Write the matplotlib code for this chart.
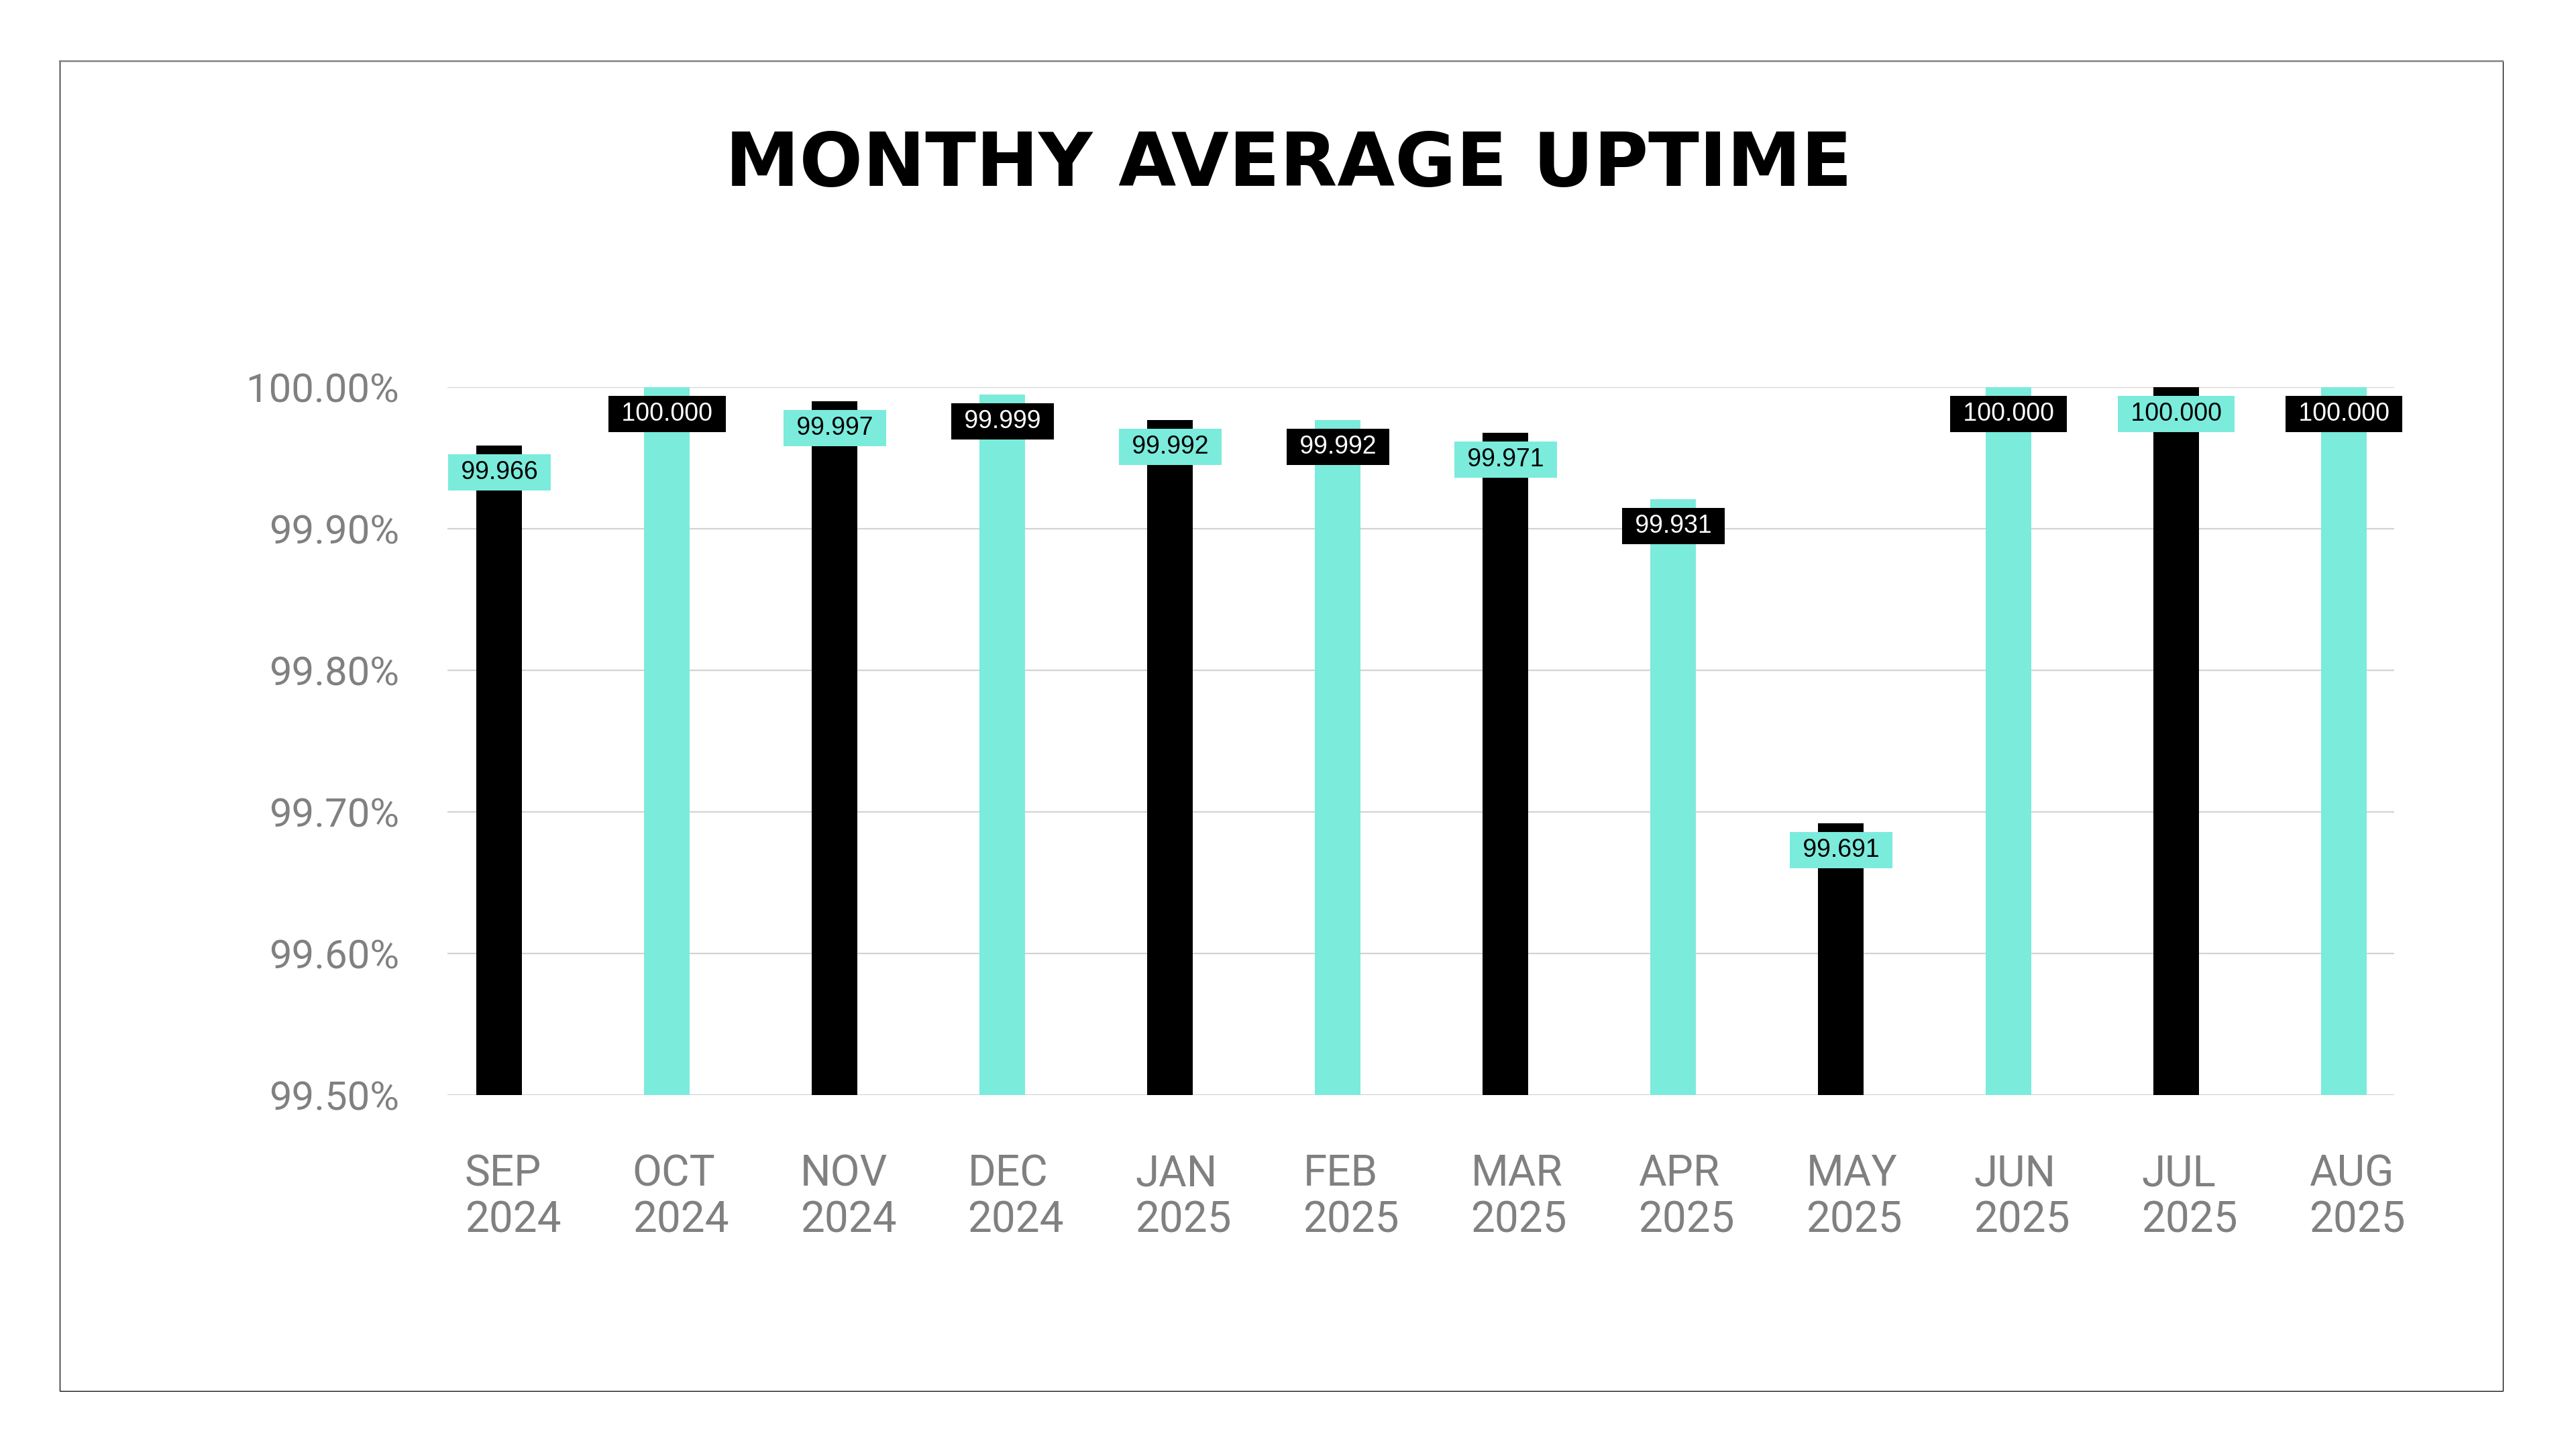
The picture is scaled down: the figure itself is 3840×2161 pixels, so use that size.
import matplotlib
matplotlib.use("Agg")
import matplotlib.pyplot as plt
from matplotlib.patches import Rectangle
from matplotlib.lines import Line2D
from matplotlib.transforms import ScaledTranslation

# Data
months = ["SEP\n2024", "OCT\n2024", "NOV\n2024", "DEC\n2024", "JAN\n2025", "FEB\n2025",
          "MAR\n2025", "APR\n2025", "MAY\n2025", "JUN\n2025", "JUL\n2025", "AUG\n2025"]
uptime = [99.959, 100.000, 99.990, 99.995, 99.977, 99.977,
          99.968, 99.921, 99.692, 100.000, 100.000, 100.000]
uptime_labels = ["99.966", "100.000", "99.997", "99.999", "99.992", "99.992",
                 "99.971", "99.931", "99.691", "100.000", "100.000", "100.000"]
y_ticks = [99.50, 99.60, 99.70, 99.80, 99.90, 100.00]

teal = "#7BEBDC"
black = "#000000"
grey = "#808080"

fig = plt.figure(figsize=(38.41, 21.61), dpi=100)
fig.patch.set_facecolor("white")

# outer frame
fig.add_artist(Rectangle((89 / 3841, 1 - 2073 / 2161), (3731 - 89) / 3841, (2073 - 91) / 2161,
                         transform=fig.transFigure, fill=False, edgecolor=black, linewidth=0.9))
fig.add_artist(Line2D([89 / 3841, 3731 / 3841], [1 - 91 / 2161, 1 - 91 / 2161],
                      transform=fig.transFigure, color=grey, linewidth=1.6))

fig.text(0.5, 1 - 277 / 2161, "MONTHY AVERAGE UPTIME", ha="center", va="baseline",
         fontsize=80, fontweight="bold", family="DejaVu Sans", color=black)

ax = fig.add_axes([667 / 3841, 1 - 1632 / 2161, (3569 - 667) / 3841, (1632 - 577) / 2161])

x = range(len(months))
bar_colors = [black if i % 2 == 0 else teal for i in x]
box_colors = [teal if i % 2 == 0 else black for i in x]
text_colors = [black if i % 2 == 0 else "white" for i in x]

ax.bar(x, [v - 99.5 for v in uptime], bottom=99.5, width=0.272, color=bar_colors, zorder=3)

for i, (v, lab) in enumerate(zip(uptime, uptime_labels)):
    ax.annotate(" " + lab + " ", xy=(i, v), xytext=(0, -29), textcoords="offset points",
                ha="center", va="center", fontsize=27, family="Liberation Sans",
                color=text_colors[i], zorder=5,
                bbox=dict(boxstyle="square,pad=0.24", facecolor=box_colors[i], edgecolor="none"))

ax.set_xlim(-0.31, 11.30)
ax.set_ylim(99.5, 100.0)
ax.set_yticks(y_ticks)
ax.set_yticklabels([f"{t:.2f}%" for t in y_ticks], family="Roboto", fontsize=43, color=grey)

# month labels drawn as text so they can sit a little right of each bar
ax.set_xticks(list(x))
ax.set_xticklabels([])
label_shift = ScaledTranslation(20 / 100, -86 / 100, fig.dpi_scale_trans)
for i, m in enumerate(months):
    ax.text(i, 0, m, transform=ax.get_xaxis_transform() + label_shift,
            ha="center", va="top", multialignment="left", linespacing=1.15,
            family="Roboto", fontsize=46, color=grey)

ax.tick_params(axis="y", length=0, pad=52)
ax.tick_params(axis="x", length=0)
ax.grid(axis="y", color="#D3D3D3", linewidth=1.6, zorder=1)
for s in ax.spines.values():
    s.set_visible(False)

fig.savefig("out.png", dpi=100, facecolor="white")
